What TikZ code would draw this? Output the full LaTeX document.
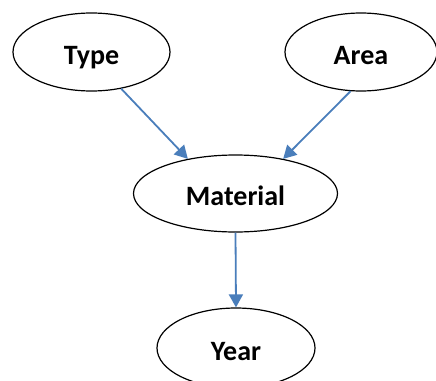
\documentclass[tikz,border=0pt]{standalone}
\usepackage{fontspec}
\setmainfont{Carlito}
\usepackage{tikz}
\usetikzlibrary{positioning, shapes.geometric, arrows.meta}
\definecolor{linkblue}{RGB}{74,126,187}

\begin{document}
\begin{tikzpicture}[x=1pt, y=-1pt, every node/.style={draw, ellipse, line width=1.2pt, inner sep=0pt, font=\fontsize{28}{30}\selectfont\bfseries, text height=24pt, text depth=0pt}, link/.style={draw=linkblue, line width=1.8pt, -{Triangle[length=13pt, width=14pt]}}]
        \useasboundingbox (0,0) rectangle (436,380);
        \clip (0,0) rectangle (436,380);
        \node (type) [minimum width=157pt, minimum height=78pt] at (91.5,52) {Type};
        \node (area) [minimum width=152pt, minimum height=78pt] at (361,52) {Area};
        \node (material) [minimum width=204pt, minimum height=77pt] at (235.5,193.5) {Material};
        \node (year) [minimum width=158pt, minimum height=80pt] at (236,348) {Year};

        \draw[link] (type.-51) -- (material.144);
        \draw[link] (area.-105) -- (material.36);
        \draw[link] (material.south) -- (year.north);
    \end{tikzpicture}
\end{document}
